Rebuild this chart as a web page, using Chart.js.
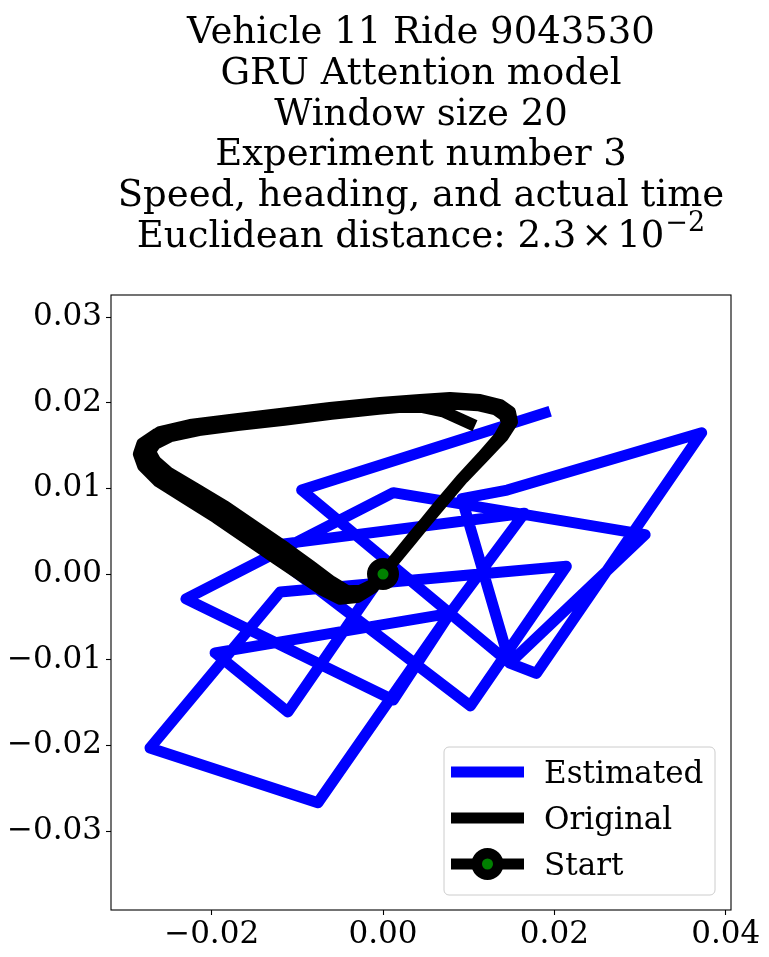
<!DOCTYPE html>
<html lang="en">
<head>
<meta charset="UTF-8">
<title>Vehicle 11 Ride 9043530</title>
<style>
    body { margin: 0; background: #fff; }
    #chart { display: block; }
</style>
</head>
<body>
<canvas id="chart" width="769" height="957"></canvas>
<script src="https://cdn.jsdelivr.net/npm/chart.js"></script>
<script>

// estimated trajectory (blue)
const estX = [0, -0.0111, -0.0196, 0.0078, -0.0076, -0.0272, -0.0120, 0.0214, 0.0102, -0.0141, 0.0165, 0.0078,
    0.0012, -0.0230, 0.0012, 0.0306, 0.0148, 0.0179, 0.0372, 0.0145, 0.0092, 0.0148, -0.0095, 0.0189];
const estY = [0, -0.0161, -0.0092, -0.0046, -0.0267, -0.0203, -0.0021, 0.0009, -0.0154, 0.0032, 0.0071, -0.0046,
    -0.0147, -0.0029, 0.0095, 0.0046, -0.0104, -0.0116, 0.0165, 0.0098, 0.0088, -0.0104, 0.0098, 0.0188];

// original trajectory (black), two laps and a partial third one
const origX = [
    0, -0.00128, -0.00292, -0.00479, -0.00677, -0.00910, -0.01202, -0.01552, -0.01903, -0.02253, -0.02603,
    -0.02780, -0.02830, -0.02780, -0.02603, -0.02253, -0.01786, -0.01202, -0.00619, -0.00035, 0.00432,
    0.00782, 0.01132, 0.01366, 0.01482, 0.01506, 0.01401, 0.01191, 0.00934, 0.00665, 0.00350, 0,
    -0.00110, -0.00260, -0.00420, -0.00600, -0.00840, -0.01130, -0.01480, -0.01830, -0.02180, -0.02500,
    -0.02660, -0.02720, -0.02660, -0.02480, -0.02150, -0.01700, -0.01150, -0.00600, -0.00050, 0.00420,
    0.00790, 0.01110, 0.01320, 0.01420, 0.01450, 0.01360, 0.01160, 0.00910, 0.00640, 0.00330, 0,
    -0.00120, -0.00300, -0.00500, -0.00720, -0.00950, -0.01250, -0.01600, -0.01950, -0.02300, -0.02620,
    -0.02800, -0.02850, -0.02810, -0.02650, -0.02300, -0.01800, -0.01200, -0.00600, 0.00000, 0.00450,
    0.00700, 0.01010
];
const origY = [
    0, -0.00140, -0.00233, -0.00257, -0.00152, 0.00012, 0.00210, 0.00444, 0.00677, 0.00887, 0.01097,
    0.01261, 0.01412, 0.01541, 0.01658, 0.01739, 0.01798, 0.01868, 0.01938, 0.01996, 0.02031,
    0.02054, 0.02031, 0.01973, 0.01891, 0.01774, 0.01611, 0.01389, 0.01121, 0.00805, 0.00432, 0,
    -0.00120, -0.00195, -0.00200, -0.00090, 0.00090, 0.00300, 0.00540, 0.00780, 0.00990, 0.01180,
    0.01320, 0.01430, 0.01520, 0.01610, 0.01680, 0.01740, 0.01800, 0.01870, 0.01930, 0.01970,
    0.01990, 0.01970, 0.01920, 0.01850, 0.01760, 0.01600, 0.01370, 0.01100, 0.00780, 0.00400, 0,
    -0.00160, -0.00270, -0.00290, -0.00180, -0.00020, 0.00180, 0.00420, 0.00660, 0.00880, 0.01080,
    0.01260, 0.01400, 0.01520, 0.01630, 0.01700, 0.01760, 0.01830, 0.01900, 0.01950, 0.01950,
    0.01900, 0.01760
];

const startX = [0];
const startY = [0];

const xTicks = [-0.02, 0.00, 0.02, 0.04];
const yTicks = [-0.03, -0.02, -0.01, 0.00, 0.01, 0.02, 0.03];

const titleLines = ['Vehicle 11 Ride 9043530', 'GRU Attention model', 'Window size 20',
    'Experiment number 3', 'Speed, heading, and actual time'];
const distLabel = 'Euclidean distance: ';
const distMantissa = '2.3';
const distExp = '\u22122';

const legendLabels = ['Estimated', 'Original', 'Start'];

const SERIF = '"DejaVu Serif", "Liberation Serif", serif';

function pts(xs, ys) {
    return xs.map((x, i) => ({ x: x, y: ys[i] }));
}

function fmtTick(v) {
    const r = Math.round(v * 100) / 100;
    return (r < 0 ? '\u2212' : '') + Math.abs(r).toFixed(2);
}

const decor = {
    id: 'decor',
    afterDatasetsDraw(chart) {
        const { ctx, chartArea: a } = chart;
        ctx.save();
        ctx.strokeStyle = '#000';
        ctx.lineWidth = 1.1;
        ctx.strokeRect(a.left, a.top, a.right - a.left, a.bottom - a.top);
        ctx.restore();
    },
    afterDraw(chart) {
        const { ctx, chartArea: a } = chart;
        const cx = (a.left + a.right) / 2;
        ctx.save();
        ctx.fillStyle = '#000';

        // title
        ctx.textAlign = 'center';
        ctx.textBaseline = 'alphabetic';
        ctx.font = '37px ' + SERIF;
        const lh = 40.8;
        const y0 = 43;
        titleLines.forEach((t, i) => ctx.fillText(t, cx, y0 + i * lh));

        // last title line with the exponent
        const y6 = y0 + 5 * lh;
        const head = distLabel + distMantissa;
        const gap = 5;
        const wHead = ctx.measureText(head).width;
        const wTimes = ctx.measureText('\u00d7').width;
        const wBase = ctx.measureText('10').width;
        ctx.font = '27px ' + SERIF;
        const wExp = ctx.measureText(distExp).width;
        let x = cx - (wHead + gap + wTimes + gap + wBase + 1 + wExp) / 2;
        ctx.textAlign = 'left';
        ctx.font = '37px ' + SERIF;
        ctx.fillText(head, x, y6); x += wHead + gap;
        ctx.fillText('\u00d7', x, y6); x += wTimes + gap;
        ctx.fillText('10', x, y6); x += wBase + 1;
        ctx.font = '27px ' + SERIF;
        ctx.fillText(distExp, x, y6 - 16);

        // legend box
        const bw = 271, bh = 148;
        const bx = a.right - 16 - bw, by = a.bottom - 15 - bh;
        ctx.beginPath();
        ctx.roundRect(bx, by, bw, bh, 5);
        ctx.fillStyle = 'rgba(255,255,255,0.8)';
        ctx.fill();
        ctx.strokeStyle = '#cccccc';
        ctx.lineWidth = 1;
        ctx.stroke();

        const colors = ['#0000ff', '#000000', '#000000'];
        const x1 = bx + 7, x2 = bx + 80;
        ctx.font = '31px ' + SERIF;
        ctx.textAlign = 'left';
        ctx.textBaseline = 'alphabetic';
        legendLabels.forEach((lab, i) => {
            const ly = by + 25 + i * 46;
            ctx.beginPath();
            ctx.moveTo(x1, ly);
            ctx.lineTo(x2, ly);
            ctx.strokeStyle = colors[i];
            ctx.lineWidth = 11;
            ctx.lineCap = 'butt';
            ctx.stroke();
            if (lab === 'Start') {
                ctx.beginPath();
                ctx.arc((x1 + x2) / 2, ly, 10.75, 0, Math.PI * 2);
                ctx.fillStyle = '#008000';
                ctx.fill();
                ctx.lineWidth = 10.5;
                ctx.strokeStyle = '#000';
                ctx.stroke();
            }
            ctx.fillStyle = '#000';
            ctx.fillText(lab, bx + 100, ly + 11);
        });
        ctx.restore();
    }
};

new Chart(document.getElementById('chart'), {
    type: 'scatter',
    data: {
        datasets: [
            {
                label: legendLabels[0],
                data: pts(estX, estY),
                showLine: true,
                borderColor: '#0000ff',
                borderWidth: 11,
                borderCapStyle: 'square',
                borderJoinStyle: 'round',
                pointRadius: 0,
                order: 3
            },
            {
                label: legendLabels[1],
                data: pts(origX, origY),
                showLine: true,
                borderColor: '#000000',
                borderWidth: 12,
                borderCapStyle: 'square',
                borderJoinStyle: 'round',
                pointRadius: 0,
                order: 2
            },
            {
                label: legendLabels[2],
                data: pts(startX, startY),
                showLine: false,
                pointRadius: 10.75,
                pointBackgroundColor: '#008000',
                pointBorderColor: '#000000',
                pointBorderWidth: 10.5,
                order: 1
            }
        ]
    },
    options: {
        responsive: false,
        animation: false,
        events: [],
        layout: { padding: { top: 295, right: 38, bottom: 0, left: 0 } },
        plugins: {
            legend: { display: false },
            title: { display: false },
            tooltip: { enabled: false }
        },
        scales: {
            x: {
                type: 'linear',
                min: -0.03175,
                max: 0.04062,
                afterBuildTicks: s => { s.ticks = xTicks.map(v => ({ value: v })); },
                afterFit: s => { s.height = 47; },
                ticks: {
                    callback: fmtTick,
                    font: { family: SERIF, size: 31 },
                    color: '#000',
                    padding: 1,
                    maxRotation: 0,
                    autoSkip: false
                },
                grid: { drawOnChartArea: false, tickLength: 5, tickColor: '#000', tickWidth: 1.1 },
                border: { display: false }
            },
            y: {
                type: 'linear',
                min: -0.03922,
                max: 0.03257,
                afterBuildTicks: s => { s.ticks = yTicks.map(v => ({ value: v })); },
                afterFit: s => { s.width = 111; },
                ticks: {
                    callback: fmtTick,
                    font: { family: SERIF, size: 31 },
                    color: '#000',
                    padding: 4,
                    autoSkip: false
                },
                grid: { drawOnChartArea: false, tickLength: 5, tickColor: '#000', tickWidth: 1.1 },
                border: { display: false }
            }
        }
    },
    plugins: [decor]
});

</script>
</body>
</html>
